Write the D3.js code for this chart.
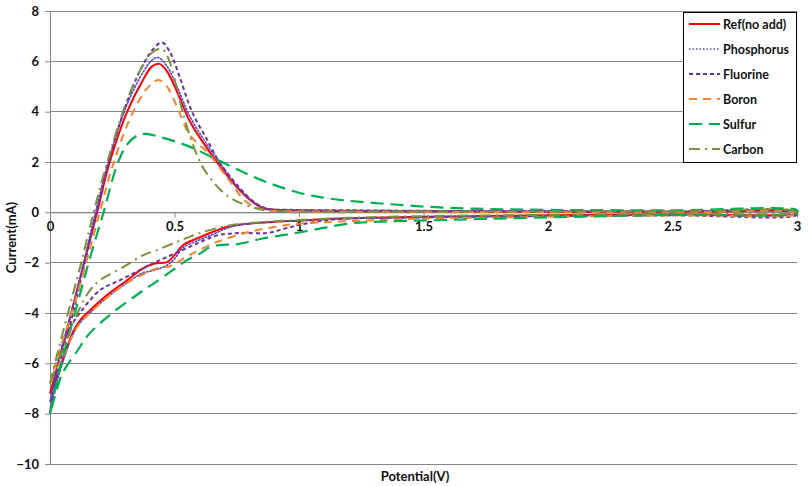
<!DOCTYPE html>
<html><head><meta charset="utf-8">
<script src="https://cdn.jsdelivr.net/npm/d3@7"></script>
<style>
body{margin:0;background:#fff;}
svg text{font-family:Lato,"Open Sans",sans-serif;font-weight:bold;fill:#111;}
</style></head>
<body><svg id="c" width="808" height="486"></svg>
<script>
// ---------- data (Potential V, Current mA), forward scan then reverse scan ----------
const seriesNames = ["Ref(no add)","Phosphorus","Fluorine","Boron","Sulfur","Carbon"];
const xTicks = [0,0.5,1,1.5,2,2.5,3];
const yTicks = [-10,-8,-6,-4,-2,0,2,4,6,8];

const refNoAdd = [[0,-7.2],[0.033,-6],[0.085,-4],[0.137,-2],[0.189,0],[0.24,2],[0.31,4],[0.37,5.2],[0.41,5.8],[0.44,5.9],[0.47,5.6],[0.51,4.8],[0.56,3.65],[0.62,2.7],[0.67,2.0],[0.75,1.0],[0.815,0.4],[0.86,0.15],[0.96,0.08],[1.2,0.05],[1.5,0.04],[2,0.03],[2.5,0.02],[3,0.0],
  [3,-0.05],[2.5,-0.08],[2,-0.12],[1.5,-0.18],[1.2,-0.24],[1.0,-0.33],[0.8,-0.45],[0.72,-0.55],[0.66,-0.75],[0.6,-1.0],[0.535,-1.3],[0.5,-1.7],[0.47,-1.98],[0.42,-2.03],[0.37,-2.25],[0.31,-2.7],[0.24,-3.2],[0.16,-3.9],[0.12,-4.3],[0.09,-4.8],[0.05,-5.9],[0.01,-7.0],[0,-7.2]];

const phosphorus = [[0,-7.5],[0.03,-6.1],[0.085,-4],[0.135,-2],[0.185,0.1],[0.24,2.2],[0.31,4.3],[0.37,5.5],[0.41,6.05],[0.435,6.15],[0.47,5.8],[0.51,5.0],[0.56,3.85],[0.62,2.85],[0.68,2.0],[0.75,1.05],[0.82,0.4],[0.87,0.15],[0.96,0.1],[1.2,0.08],[1.5,0.06],[2,0.05],[2.5,0.04],[3,0.02],
  [3,-0.05],[2.5,-0.1],[2,-0.15],[1.5,-0.2],[1.2,-0.25],[1.0,-0.32],[0.8,-0.45],[0.72,-0.6],[0.66,-0.85],[0.6,-1.1],[0.535,-1.4],[0.5,-1.85],[0.47,-2.1],[0.42,-2.3],[0.37,-2.42],[0.31,-2.8],[0.24,-3.3],[0.16,-4.0],[0.12,-4.4],[0.09,-4.9],[0.05,-6.0],[0.01,-7.3],[0,-7.5]];

const fluorine = [[0,-8],[0.035,-6.2],[0.09,-4.1],[0.14,-2],[0.19,0.1],[0.24,2.2],[0.31,4.4],[0.37,5.8],[0.42,6.55],[0.45,6.75],[0.48,6.4],[0.52,5.4],[0.57,4.0],[0.63,2.9],[0.68,2.0],[0.755,1.05],[0.82,0.4],[0.87,0.15],[0.96,0.1],[1.2,0.08],[1.5,0.06],[2,0.04],[2.5,0.03],[3,0.02],
  [3,-0.1],[2.5,-0.12],[2,-0.15],[1.5,-0.2],[1.14,-0.28],[1.0,-0.5],[0.96,-0.6],[0.87,-0.82],[0.76,-0.82],[0.67,-0.92],[0.6,-1.2],[0.51,-1.6],[0.43,-1.95],[0.36,-2.3],[0.28,-2.7],[0.2,-3.1],[0.12,-4.0],[0.08,-4.6],[0.04,-5.6],[0.01,-7.3],[0,-8]];

const boron = [[0,-6.8],[0.035,-5.6],[0.09,-3.9],[0.145,-2],[0.2,0],[0.25,1.8],[0.32,3.7],[0.38,4.8],[0.42,5.2],[0.44,5.25],[0.47,5.0],[0.51,4.2],[0.56,3.1],[0.64,2.3],[0.72,1.27],[0.79,0.4],[0.86,0.1],[0.96,0.05],[1.2,0.03],[1.5,0.02],[2,0.01],[2.5,0.0],[3,-0.02],
  [3,-0.08],[2.5,-0.12],[2,-0.18],[1.5,-0.25],[1.2,-0.35],[1.0,-0.45],[0.94,-0.52],[0.8,-0.78],[0.67,-1.18],[0.56,-1.7],[0.48,-2.15],[0.45,-2.18],[0.41,-2.3],[0.31,-2.8],[0.24,-3.3],[0.16,-4.0],[0.12,-4.4],[0.09,-4.9],[0.05,-5.8],[0.01,-6.5],[0,-6.8]];

const sulfur = [[0,-8],[0.04,-6.2],[0.1,-4],[0.155,-2],[0.215,0],[0.27,1.9],[0.31,2.7],[0.35,3.05],[0.38,3.12],[0.44,3.0],[0.55,2.65],[0.66,2.15],[0.76,1.67],[0.87,1.2],[1.0,0.78],[1.12,0.55],[1.33,0.35],[1.6,0.18],[2.0,0.1],[2.5,0.08],[3,0.08],
  [3,-0.02],[2.5,-0.1],[2,-0.2],[1.6,-0.3],[1.3,-0.38],[1.2,-0.45],[1.0,-0.8],[0.85,-1.05],[0.75,-1.27],[0.68,-1.3],[0.64,-1.4],[0.6,-1.65],[0.55,-1.9],[0.5,-2.25],[0.42,-2.8],[0.375,-3.1],[0.25,-4.0],[0.16,-4.8],[0.11,-5.5],[0.05,-6.4],[0.02,-7.3],[0,-8]];

const carbon = [[0,-6.8],[0.03,-5.6],[0.08,-3.7],[0.128,-1.9],[0.175,0],[0.23,2.0],[0.3,4.2],[0.36,5.6],[0.41,6.35],[0.45,6.5],[0.48,6.0],[0.51,4.9],[0.535,3.9],[0.57,2.8],[0.6,2.06],[0.64,1.4],[0.72,0.6],[0.83,0.15],[0.9,0.05],[1.2,0.03],[1.5,0.03],[2,0.03],[2.5,0.04],[3,0.05],
  [3,0.0],[2.5,-0.05],[2,-0.1],[1.5,-0.15],[1.2,-0.22],[1.0,-0.3],[0.8,-0.43],[0.72,-0.52],[0.615,-0.78],[0.535,-1.07],[0.43,-1.5],[0.375,-1.7],[0.29,-2.2],[0.2,-2.7],[0.16,-3.1],[0.12,-3.8],[0.07,-5.0],[0.03,-6.0],[0,-6.8]];

const seriesData = [refNoAdd, phosphorus, fluorine, boron, sulfur, carbon];

// ---------- styles ----------
const styles = [
  {color:"#ff0000", dash:null, w:2},
  {color:"#4b4bc8", dash:"1.5,2", w:1.6},
  {color:"#7030a0", dash:"4,3", w:2},
  {color:"#f4822e", dash:"8,6", w:2},
  {color:"#00b050", dash:"13,7", w:2.2},
  {color:"#77933c", dash:"11,5,2,5", w:2}
];

const svg = d3.select("#c");
const L = 50, R = 797, T = 11, B = 464;
const x = d3.scaleLinear().domain([0,3]).range([L,R]);
const y = d3.scaleLinear().domain([-10,8]).range([B,T]);

// gridlines
svg.append("g").selectAll("line").data(yTicks).join("line")
  .attr("x1",L).attr("x2",R).attr("y1",d=>y(d)).attr("y2",d=>y(d))
  .attr("stroke","#868686").attr("stroke-width",1).attr("shape-rendering","crispEdges");

// y axis
const yAxis = svg.append("g").attr("transform",`translate(${L},0)`)
  .call(d3.axisLeft(y).tickValues(yTicks).tickSize(5).tickPadding(6).tickFormat(d3.format("d")));
yAxis.select(".domain").attr("stroke","#868686");
yAxis.selectAll(".tick line").attr("stroke","#868686");
yAxis.selectAll("text").style("font-size","13px").style("font-family","Lato").style("font-weight","bold").attr("fill","#111");

// x axis at y=0
const xAxis = svg.append("g").attr("transform",`translate(0,${y(0)})`)
  .call(d3.axisBottom(x).tickValues(xTicks).tickSize(5).tickPadding(4).tickFormat(d=>String(d)));
xAxis.select(".domain").attr("stroke","#868686");
xAxis.selectAll(".tick line").attr("stroke","#868686");
xAxis.selectAll("text").style("font-size","13px").style("font-family","Lato").style("font-weight","bold").attr("fill","#111");

// lines
const line = d3.line().x(d=>x(d[0])).y(d=>y(d[1])).curve(d3.curveCatmullRom.alpha(0.5));
svg.append("g").selectAll("path").data(seriesData).join("path")
  .attr("d",line).attr("fill","none")
  .attr("stroke",(d,i)=>styles[i].color)
  .attr("stroke-width",(d,i)=>styles[i].w)
  .attr("stroke-dasharray",(d,i)=>styles[i].dash)
  .attr("stroke-linecap",(d,i)=>i===1?"round":"butt");

// axis titles
svg.append("text").attr("x",415).attr("y",481).attr("text-anchor","middle")
  .style("font-size","13px").text("Potential(V)");
svg.append("text").attr("transform",`translate(16,${(T+B)/2}) rotate(-90)`).attr("text-anchor","middle")
  .style("font-size","13px").text("Current(mA)");

// legend
const lg = svg.append("g");
lg.append("rect").attr("x",683.5).attr("y",12.5).attr("width",113).attr("height",150)
  .attr("fill","#fff").attr("stroke","#000").attr("stroke-width",1);
const rows = lg.selectAll("g.row").data(seriesNames).join("g").attr("class","row")
  .attr("transform",(d,i)=>`translate(0,${24+i*25})`);
rows.append("line").attr("x1",689).attr("x2",720).attr("y1",0).attr("y2",0)
  .attr("stroke",(d,i)=>styles[i].color).attr("stroke-width",(d,i)=>styles[i].w)
  .attr("stroke-dasharray",(d,i)=>styles[i].dash);
rows.append("text").attr("x",723).attr("y",4.5).style("font-size","12.5px").text(d=>d);
</script></body></html>
